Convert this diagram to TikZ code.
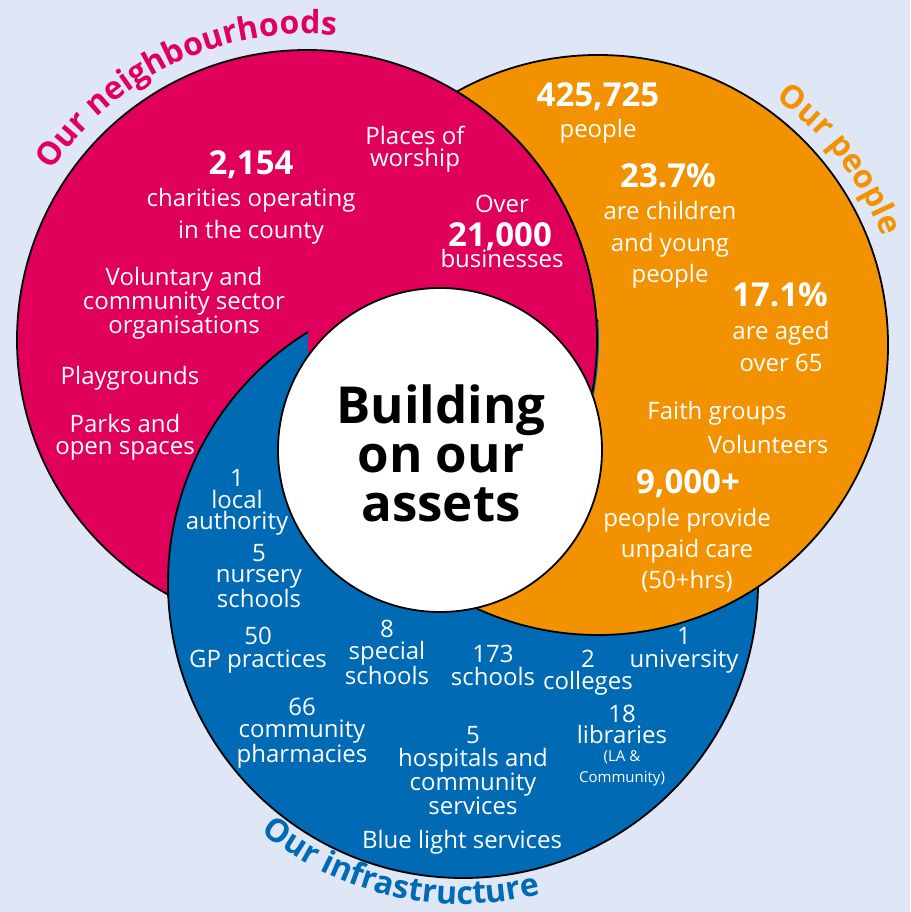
\documentclass[tikz,border=0pt]{standalone}
\usepackage{fontspec}
\setmainfont{Open Sans}
\usetikzlibrary{decorations.text}
\definecolor{pinkhood}{HTML}{E0005B}
\definecolor{orangepeople}{HTML}{F39200}
\definecolor{blueinfra}{HTML}{006AB4}
\definecolor{palebg}{HTML}{DFE6F5}
\tikzset{
  ring/.style={fill=#1, draw=black, line width=1.8pt},
  fact/.style={text=white, font=\fontsize{24}{#1}\selectfont, align=center, anchor=base, inner sep=0pt},
  fact/.default=22,
  smallfact/.style={text=white, font=\fontsize{15}{21}\selectfont, align=center, anchor=base, inner sep=0pt},
  bignum/.style={text=white, font=\fontsize{33}{33}\selectfont\bfseries, anchor=base, inner sep=0pt},
  arclabel/.style 2 args={decorate, decoration={text along path, text align=center,
    text={|\fontsize{32}{32}\selectfont\bfseries\color{#1}|#2}}},
}

\begin{document}
\begin{tikzpicture}[x=1pt, y=1pt]
  \useasboundingbox (0,0) rectangle (910,912);
  \fill[palebg] (0,0) rectangle (910,912);
  \coordinate (P) at (307,572);
  \coordinate (O) at (598,567);
  \coordinate (B) at (463,329);
  \coordinate (W) at (440,462);
  % three circles, each one lying over the next
  \path[ring=blueinfra] (B) circle[radius=295];
  \path[ring=orangepeople] (O) circle[radius=290];
  \path[ring=pinkhood] (P) circle[radius=290];
  \begin{scope}
    \clip (P) circle[radius=292];
    \path[ring=blueinfra] (B) circle[radius=295];
    \begin{scope}
      \clip (O) circle[radius=290];
      \path[ring=pinkhood] (P) circle[radius=290];
    \end{scope}
  \end{scope}
  \node[circle, ring=white, minimum size=324pt, inner sep=0pt] (centre) at (W) {};
  % (base of a node = baseline of its last line)
  \node[anchor=base, align=center, inner sep=0pt, font=\fontsize{51}{49}\selectfont\bfseries] (assets) at (441,390) {Building\\on our\\assets};
  % labels round the circles
  \path[arclabel={pinkhood}{Our neighbourhoods}] ([shift={(175.5:306)}]P) arc[start angle=175.5, end angle=55.5, radius=306];
  \path[arclabel={orangepeople}{Our people}] ([shift={(97.5:304)}]O) arc[start angle=97.5, end angle=-22.5, radius=304];
  \path[arclabel={blueinfra}{Our infrastructure}] ([shift={(197.5:321)}]B) arc[start angle=197.5, end angle=317.5, radius=321];
  % neighbourhoods
  \node[bignum] (n2154) at (251,737) {2,154};
  \node[fact=32] (charities) at (251,673) {charities operating\\in the county};
  \node[fact] (worship) at (415,745) {Places of\\worship};
  \node[fact] (over) at (502,699) {Over};
  \node[bignum] (n21000) at (500,665) {21,000};
  \node[fact] (biz) at (502,644) {businesses};
  \node[fact=21] (voluntary) at (184,578) {Voluntary and\\community sector\\organisations};
  \node[fact] (play) at (130,527) {Playgrounds};
  \node[fact] (parks) at (125,457) {Parks and\\open spaces};
  % people
  \node[bignum] (n425) at (598,805) {425,725};
  \node[fact] (people) at (598,774) {people};
  \node[bignum] (n237) at (668,724) {23.7\%};
  \node[fact=31.5] (children) at (670,629) {are children\\and young\\people};
  \node[bignum] (n171) at (780,605) {17.1\%};
  \node[fact=32] (aged) at (781,540) {are aged\\over 65};
  \node[fact] (faith) at (717,492) {Faith groups};
  \node[fact] (volunteers) at (768,458) {Volunteers};
  \node[bignum] (n9000) at (688,418) {9,000+};
  \node[fact=31] (unpaid) at (687,323) {people provide\\unpaid care\\(50+hrs)};
  % infrastructure
  \node[fact=21.5] (authority) at (237,382) {1\\local\\authority};
  \node[fact=21.5] (nursery) at (259,304) {5\\nursery\\schools};
  \node[fact=23] (gp) at (258,244) {50\\GP practices};
  \node[fact=22.5] (special) at (387,227) {8\\special\\schools};
  \node[fact=23] (sch173) at (493,226) {173\\schools};
  \node[fact=22] (colleges) at (588,222) {2\\colleges};
  \node[fact=23] (university) at (684,244) {1\\university};
  \node[fact=21] (libraries) at (622,168) {18\\libraries};
  \node[smallfact] (libnote) at (622,129) {(LA \&\\Community)};
  \node[fact=22.5] (pharmacies) at (302,149) {66\\community\\pharmacies};
  \node[fact=22.3] (hospitals) at (473,97) {5\\hospitals and\\community\\services};
  \node[fact] (bluelight) at (462,63) {Blue light services};
\end{tikzpicture}
\end{document}
